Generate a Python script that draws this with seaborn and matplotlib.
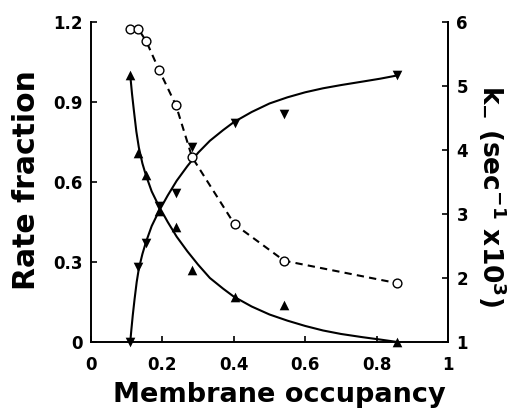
import numpy as np
import matplotlib
matplotlib.use("Agg")
import matplotlib.pyplot as plt
import seaborn as sns
import pandas as pd

sns.set_style("ticks")
plt.rcParams['font.family'] = ['DejaVu Sans']
plt.rcParams['font.weight'] = 'bold'
plt.rcParams['mathtext.default'] = 'bf'
plt.rcParams.update({'text.color': 'black', 'axes.labelcolor': 'black',
                     'xtick.color': 'black', 'ytick.color': 'black',
                     'axes.edgecolor': 'black'})

# measured points (same occupancies for all three series)
occupancy = [0.11, 0.133, 0.155, 0.19, 0.238, 0.283, 0.402, 0.541, 0.857]
rate_tri_up = [1.0, 0.71, 0.626, 0.49, 0.43, 0.27, 0.17, 0.14, 0.0]
rate_tri_down = [0.0, 0.28, 0.37, 0.51, 0.56, 0.73, 0.82, 0.855, 1.0]
k_minus = [5.89, 5.89, 5.70, 5.26, 4.70, 3.89, 2.84, 2.27, 1.92]

# fitted curves
fit_down_x = [0.11, 0.115, 0.12, 0.127, 0.134, 0.144, 0.154, 0.17, 0.19, 0.215, 0.24,
              0.27, 0.30, 0.333, 0.37, 0.40, 0.45, 0.50, 0.55, 0.60, 0.65, 0.70,
              0.76, 0.81, 0.857]
fit_down_y = [1.0, 0.93, 0.87, 0.79, 0.73, 0.67, 0.625, 0.565, 0.51, 0.45, 0.395,
              0.34, 0.29, 0.24, 0.2, 0.17, 0.133, 0.103, 0.080, 0.060, 0.043, 0.030,
              0.018, 0.009, 0.0]
fit_up_x = [0.11, 0.113, 0.117, 0.122, 0.128, 0.134, 0.144, 0.154, 0.17, 0.19, 0.215,
            0.24, 0.27, 0.30, 0.333, 0.37, 0.40, 0.45, 0.50, 0.55, 0.60, 0.65, 0.70,
            0.76, 0.81, 0.857]
fit_up_y = [0.0, 0.045, 0.1, 0.16, 0.225, 0.275, 0.33, 0.375, 0.435, 0.49, 0.55,
            0.605, 0.66, 0.71, 0.755, 0.795, 0.825, 0.863, 0.895, 0.918, 0.937, 0.952,
            0.964, 0.977, 0.988, 1.0]

x_ticks = [0, 0.2, 0.4, 0.6, 0.8, 1]
x_tick_labels = ["0", "0.2", "0.4", "0.6", "0.8", "1"]
y_ticks = [0, 0.3, 0.6, 0.9, 1.2]
y_tick_labels = ["0", "0.3", "0.6", "0.9", "1.2"]
k_ticks = [1, 2, 3, 4, 5, 6]

df = pd.DataFrame({"occ": occupancy, "up": rate_tri_up, "down": rate_tri_down, "k": k_minus})

fig, ax = plt.subplots(figsize=(5.29, 4.11), dpi=100)
fig.subplots_adjust(left=0.172, right=0.847, bottom=0.168, top=0.946)
ax2 = ax.twinx()

sns.lineplot(x=fit_down_x, y=fit_down_y, ax=ax, color="black", lw=1.5,
             sort=False, estimator=None)
sns.lineplot(x=fit_up_x, y=fit_up_y, ax=ax, color="black", lw=1.5,
             sort=False, estimator=None)
sns.scatterplot(data=df, x="occ", y="up", ax=ax, marker="^", color="black",
                s=48, linewidth=0, clip_on=False, zorder=5)
sns.scatterplot(data=df, x="occ", y="down", ax=ax, marker="v", color="black",
                s=48, linewidth=0, clip_on=False, zorder=5)

sns.lineplot(data=df, x="occ", y="k", ax=ax2, color="black", lw=1.5,
             linestyle=(0, (3.5, 2.5)), sort=False, estimator=None)
sns.scatterplot(data=df, x="occ", y="k", ax=ax2, marker="o", facecolor="white",
                edgecolor="black", s=40, linewidth=1.0, zorder=5)

ax.set_xlim(0, 1)
ax.set_ylim(0, 1.2)
ax2.set_ylim(1, 6)
ax.set_xticks(x_ticks)
ax.set_xticklabels(x_tick_labels)
ax.set_yticks(y_ticks)
ax.set_yticklabels(y_tick_labels)
ax2.set_yticks(k_ticks)
ax2.set_yticklabels([str(t) for t in k_ticks])

for a in (ax, ax2):
    a.spines["top"].set_visible(False)
    for s in a.spines.values():
        s.set_linewidth(1.4)
    a.tick_params(direction="in", length=4, width=1.2, labelsize=12, pad=6)
ax.tick_params(axis="x", pad=10)
ax2.spines["left"].set_visible(False)
ax2.spines["bottom"].set_visible(False)

ax.set_xlabel("Membrane occupancy", fontsize=19.5, fontweight="bold", va="center")
ax.xaxis.set_label_coords(0.528, -0.166)
ax.set_ylabel("Rate fraction", fontsize=21.5, fontweight="bold", va="center")
ax.yaxis.set_label_coords(-0.182, 0.506)
ax2.set_ylabel(r"k$_{-}$ (sec$^{-1}$ x10$^{3}$)", fontsize=19, fontweight="bold",
               rotation=270, va="center")
ax2.yaxis.set_label_coords(1.126, 0.456)

plt.savefig("out.png", dpi=100)
